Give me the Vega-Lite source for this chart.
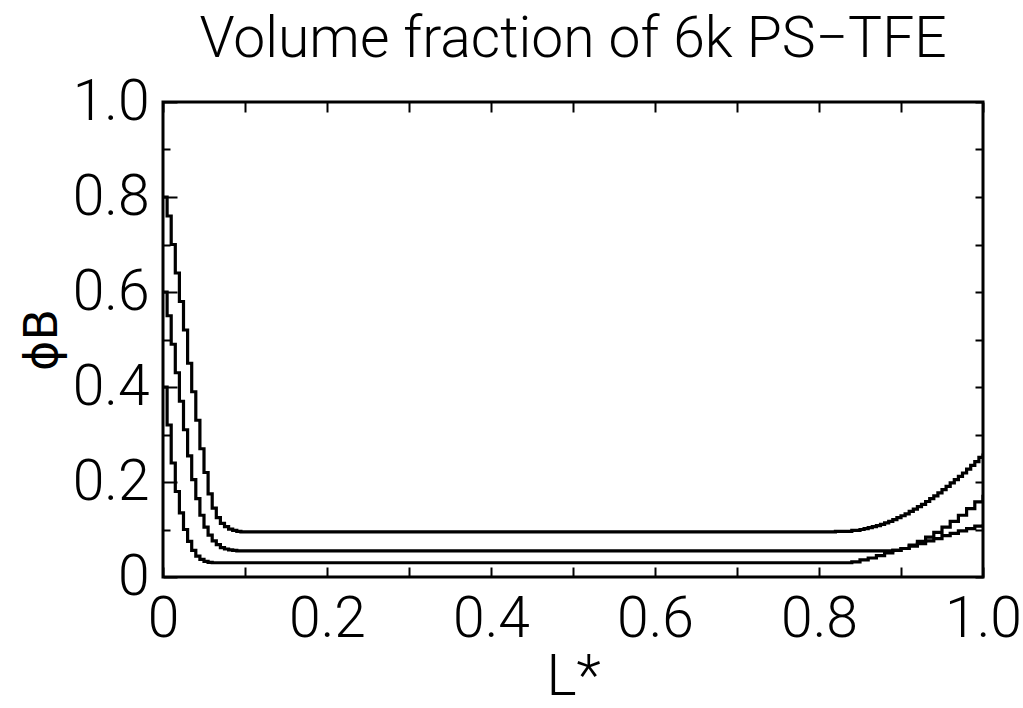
{
  "$schema": "https://vega.github.io/schema/vega-lite/v6.json",
  "width": 820,
  "height": 475,
  "autosize": {"type": "none"},
  "padding": {"left": 163, "top": 102, "right": 40, "bottom": 131},
  "background": "white",
  "config": {
    "view": {"stroke": "black", "strokeWidth": 3},
    "font": "Roboto, Liberation Sans, sans-serif"
  },
  "title": {
    "text": "Volume fraction of 6k PS−TFE",
    "font": "Roboto, Liberation Sans, sans-serif",
    "fontSize": 57,
    "fontWeight": 300,
    "color": "black",
    "anchor": "middle",
    "offset": 4
  },
  "data": {
    "values": [
      {"s": "A", "x": 0, "phi": 0.80}, {"s": "A", "x": 0.005, "phi": 0.76}, {"s": "A", "x": 0.01, "phi": 0.70}, {"s": "A", "x": 0.015, "phi": 0.64},
      {"s": "A", "x": 0.02, "phi": 0.58}, {"s": "A", "x": 0.025, "phi": 0.52}, {"s": "A", "x": 0.03, "phi": 0.45}, {"s": "A", "x": 0.035, "phi": 0.39},
      {"s": "A", "x": 0.04, "phi": 0.33}, {"s": "A", "x": 0.045, "phi": 0.27}, {"s": "A", "x": 0.05, "phi": 0.22}, {"s": "A", "x": 0.055, "phi": 0.175},
      {"s": "A", "x": 0.06, "phi": 0.145}, {"s": "A", "x": 0.065, "phi": 0.125}, {"s": "A", "x": 0.07, "phi": 0.113}, {"s": "A", "x": 0.075, "phi": 0.106},
      {"s": "A", "x": 0.08, "phi": 0.101}, {"s": "A", "x": 0.085, "phi": 0.098}, {"s": "A", "x": 0.09, "phi": 0.096}, {"s": "A", "x": 0.095, "phi": 0.095},
      {"s": "A", "x": 0.82, "phi": 0.096}, {"s": "A", "x": 0.84, "phi": 0.098}, {"s": "A", "x": 0.85, "phi": 0.100}, {"s": "A", "x": 0.855, "phi": 0.102},
      {"s": "A", "x": 0.86, "phi": 0.104}, {"s": "A", "x": 0.865, "phi": 0.106}, {"s": "A", "x": 0.87, "phi": 0.108}, {"s": "A", "x": 0.875, "phi": 0.111},
      {"s": "A", "x": 0.88, "phi": 0.114}, {"s": "A", "x": 0.885, "phi": 0.117}, {"s": "A", "x": 0.89, "phi": 0.121}, {"s": "A", "x": 0.895, "phi": 0.125},
      {"s": "A", "x": 0.9, "phi": 0.129}, {"s": "A", "x": 0.905, "phi": 0.133}, {"s": "A", "x": 0.91, "phi": 0.138}, {"s": "A", "x": 0.915, "phi": 0.143},
      {"s": "A", "x": 0.92, "phi": 0.148}, {"s": "A", "x": 0.925, "phi": 0.153}, {"s": "A", "x": 0.93, "phi": 0.159}, {"s": "A", "x": 0.935, "phi": 0.165},
      {"s": "A", "x": 0.94, "phi": 0.171}, {"s": "A", "x": 0.945, "phi": 0.177}, {"s": "A", "x": 0.95, "phi": 0.184}, {"s": "A", "x": 0.955, "phi": 0.191},
      {"s": "A", "x": 0.96, "phi": 0.198}, {"s": "A", "x": 0.965, "phi": 0.205}, {"s": "A", "x": 0.97, "phi": 0.212}, {"s": "A", "x": 0.975, "phi": 0.219},
      {"s": "A", "x": 0.98, "phi": 0.227}, {"s": "A", "x": 0.985, "phi": 0.235}, {"s": "A", "x": 0.99, "phi": 0.243}, {"s": "A", "x": 0.995, "phi": 0.252},
      {"s": "A", "x": 1.0, "phi": 0.26},
      {"s": "B", "x": 0, "phi": 0.60}, {"s": "B", "x": 0.005, "phi": 0.55}, {"s": "B", "x": 0.01, "phi": 0.49}, {"s": "B", "x": 0.015, "phi": 0.43},
      {"s": "B", "x": 0.02, "phi": 0.37}, {"s": "B", "x": 0.025, "phi": 0.31}, {"s": "B", "x": 0.03, "phi": 0.255}, {"s": "B", "x": 0.035, "phi": 0.205},
      {"s": "B", "x": 0.04, "phi": 0.165}, {"s": "B", "x": 0.045, "phi": 0.13}, {"s": "B", "x": 0.05, "phi": 0.105}, {"s": "B", "x": 0.055, "phi": 0.088},
      {"s": "B", "x": 0.06, "phi": 0.076}, {"s": "B", "x": 0.065, "phi": 0.068}, {"s": "B", "x": 0.07, "phi": 0.062}, {"s": "B", "x": 0.075, "phi": 0.059},
      {"s": "B", "x": 0.08, "phi": 0.057}, {"s": "B", "x": 0.085, "phi": 0.056}, {"s": "B", "x": 0.09, "phi": 0.055}, {"s": "B", "x": 0.88, "phi": 0.055},
      {"s": "B", "x": 0.89, "phi": 0.056}, {"s": "B", "x": 0.9, "phi": 0.060}, {"s": "B", "x": 0.91, "phi": 0.067}, {"s": "B", "x": 0.92, "phi": 0.075},
      {"s": "B", "x": 0.93, "phi": 0.084}, {"s": "B", "x": 0.94, "phi": 0.094}, {"s": "B", "x": 0.95, "phi": 0.105}, {"s": "B", "x": 0.96, "phi": 0.117},
      {"s": "B", "x": 0.97, "phi": 0.130}, {"s": "B", "x": 0.98, "phi": 0.144}, {"s": "B", "x": 0.99, "phi": 0.158}, {"s": "B", "x": 1.0, "phi": 0.173},
      {"s": "C", "x": 0, "phi": 0.40}, {"s": "C", "x": 0.005, "phi": 0.32}, {"s": "C", "x": 0.01, "phi": 0.24}, {"s": "C", "x": 0.015, "phi": 0.18},
      {"s": "C", "x": 0.02, "phi": 0.135}, {"s": "C", "x": 0.025, "phi": 0.10}, {"s": "C", "x": 0.03, "phi": 0.075}, {"s": "C", "x": 0.035, "phi": 0.056},
      {"s": "C", "x": 0.04, "phi": 0.044}, {"s": "C", "x": 0.045, "phi": 0.037}, {"s": "C", "x": 0.05, "phi": 0.033}, {"s": "C", "x": 0.055, "phi": 0.031},
      {"s": "C", "x": 0.06, "phi": 0.030}, {"s": "C", "x": 0.83, "phi": 0.030}, {"s": "C", "x": 0.84, "phi": 0.032}, {"s": "C", "x": 0.85, "phi": 0.036},
      {"s": "C", "x": 0.86, "phi": 0.040}, {"s": "C", "x": 0.87, "phi": 0.045}, {"s": "C", "x": 0.88, "phi": 0.051}, {"s": "C", "x": 0.89, "phi": 0.056},
      {"s": "C", "x": 0.9, "phi": 0.060}, {"s": "C", "x": 0.91, "phi": 0.065}, {"s": "C", "x": 0.92, "phi": 0.070}, {"s": "C", "x": 0.93, "phi": 0.076},
      {"s": "C", "x": 0.94, "phi": 0.081}, {"s": "C", "x": 0.95, "phi": 0.087}, {"s": "C", "x": 0.96, "phi": 0.092}, {"s": "C", "x": 0.97, "phi": 0.097},
      {"s": "C", "x": 0.98, "phi": 0.102}, {"s": "C", "x": 0.99, "phi": 0.107}, {"s": "C", "x": 1.0, "phi": 0.111}
    ]
  },
  "layer": [
    {
      "mark": {"type": "line", "interpolate": "step-after", "color": "black", "strokeWidth": 3.2, "clip": true},
      "encoding": {
        "x": {
          "field": "x", "type": "quantitative",
          "scale": {"domain": [0, 1], "nice": false, "zero": false},
          "axis": {
            "orient": "bottom",
            "values": [0, 0.1, 0.2, 0.3, 0.4, 0.5, 0.6, 0.7, 0.8, 0.9, 1.0],
            "domain": false, "grid": false,
            "tickSize": -10, "tickWidth": 2, "tickColor": "black",
            "labelExpr": "abs(datum.value*5 - round(datum.value*5)) < 0.001 ? (datum.value == 0 ? '0' : format(datum.value, '.1f')) : ''",
            "labelFont": "Roboto, Liberation Sans, sans-serif", "labelFontWeight": 300,
            "labelFontSize": 57, "labelColor": "black", "labelPadding": 24, "labelFlush": false, "labelOverlap": false,
            "title": "L*",
            "titleFont": "Roboto, Liberation Sans, sans-serif",
            "titleFontSize": 57, "titleFontWeight": 300, "titleColor": "black", "titlePadding": 2
          }
        },
        "y": {
          "field": "phi", "type": "quantitative",
          "scale": {"domain": [0, 1], "nice": false, "zero": false},
          "axis": {
            "orient": "left",
            "values": [0, 0.1, 0.2, 0.3, 0.4, 0.5, 0.6, 0.7, 0.8, 0.9, 1.0],
            "domain": false, "grid": false,
            "tickSize": {"condition": {"test": "abs(datum.value*5 - round(datum.value*5)) < 0.001", "value": -14}, "value": -7},
            "tickWidth": 2, "tickColor": "black",
            "labelExpr": "abs(datum.value*5 - round(datum.value*5)) < 0.001 ? (datum.value == 0 ? '0' : format(datum.value, '.1f')) : ''",
            "labelFont": "Roboto, Liberation Sans, sans-serif", "labelFontWeight": 300,
            "labelFontSize": 57, "labelColor": "black", "labelPadding": 28, "labelFlush": false, "labelOverlap": false,
            "title": "ϕB",
            "titleFont": "DejaVu Sans, sans-serif",
            "titleFontSize": 46, "titleFontWeight": "normal", "titleColor": "black", "titlePadding": 6
          }
        },
        "detail": {"field": "s", "type": "nominal"}
      }
    },
    {
      "mark": {"type": "point", "opacity": 0},
      "encoding": {
        "x": {
          "field": "x", "type": "quantitative",
          "axis": {
            "orient": "top",
            "values": [0, 0.1, 0.2, 0.3, 0.4, 0.5, 0.6, 0.7, 0.8, 0.9, 1.0],
            "domain": false, "grid": false, "labels": false, "title": null,
            "tickSize": -10, "tickWidth": 2, "tickColor": "black"
          }
        },
        "y": {
          "field": "phi", "type": "quantitative",
          "axis": {
            "orient": "right",
            "values": [0, 0.1, 0.2, 0.3, 0.4, 0.5, 0.6, 0.7, 0.8, 0.9, 1.0],
            "domain": false, "grid": false, "labels": false, "title": null,
            "tickSize": -8, "tickWidth": 2, "tickColor": "black"
          }
        }
      }
    }
  ],
  "resolve": {"axis": {"x": "independent", "y": "independent"}}
}
